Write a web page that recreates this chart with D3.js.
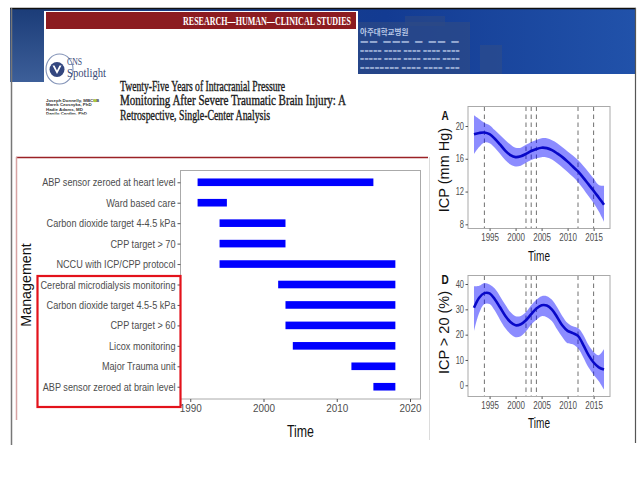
<!DOCTYPE html>
<html>
<head>
<meta charset="utf-8">
<script src="https://cdn.jsdelivr.net/npm/d3@7"></script>
<style>
  body { margin: 0; background: #fff; }
  svg { display: block; }
</style>
</head>
<body>
<svg id="slide" width="640" height="490"></svg>
<script>
// ---- data ----
const tasks = [
  'ABP sensor zeroed at heart level', 'Ward based care', 'Carbon dioxide target 4-4.5 kPa',
  'CPP target > 70', 'NCCU with ICP/CPP protocol', 'Cerebral microdialysis monitoring',
  'Carbon dioxide target 4.5-5 kPa', 'CPP target > 60', 'Licox monitoring',
  'Major Trauma unit', 'ABP sensor zeroed at brain level'];
const taskStart = [1991, 1991, 1994, 1994, 1994, 2002, 2003, 2003, 2004, 2012, 2015];
const taskEnd   = [2015, 1995, 2003, 2003, 2018, 2018, 2018, 2018, 2018, 2018, 2018];
const ganttTicks = [1990, 2000, 2010, 2020];

const years = [1992, 1993, 1994, 1995, 1996, 1997, 1998, 1999, 2000, 2001, 2002, 2003, 2004,
  2005, 2006, 2007, 2008, 2009, 2010, 2011, 2012, 2013, 2014, 2015, 2016, 2017];
const icpMean  = [19.0, 19.15, 19.2, 19.0, 18.45, 17.75, 17.0, 16.45, 16.2, 16.3, 16.6, 16.95, 17.2,
  17.35, 17.3, 17.05, 16.65, 16.2, 15.65, 15.05, 14.45, 13.7, 12.9, 12.1, 11.25, 10.4];
const icpUpper = [21.3, 20.85, 20.4, 20.1, 19.5, 18.9, 18.3, 17.75, 17.35, 17.35, 17.7, 18.05, 18.3,
  18.5, 18.5, 18.25, 17.9, 17.4, 16.9, 16.4, 15.85, 15.15, 14.4, 13.6, 12.8, 12.7];
const icpLower = [16.6, 17.45, 18.0, 17.9, 17.35, 16.6, 15.85, 15.3, 15.05, 15.15, 15.5, 15.85, 16.05,
  16.2, 16.15, 15.9, 15.45, 14.95, 14.4, 13.8, 13.15, 12.35, 11.45, 10.6, 9.55, 8.3];
const highMean  = [30.6, 34.6, 36.4, 36.3, 34.0, 30.8, 27.5, 25.0, 23.7, 24.1, 25.7, 28.1, 30.3,
  31.6, 31.5, 29.9, 26.9, 23.6, 21.5, 20.6, 19.5, 16.0, 12.0, 9.0, 7.1, 6.2];
const highUpper = [39.1, 39.3, 40.4, 39.8, 38.2, 35.2, 31.9, 28.9, 27.3, 27.4, 28.9, 31.6, 33.8,
  35.2, 35.2, 33.8, 30.8, 27.3, 24.6, 23.3, 22.6, 20.0, 16.0, 13.2, 11.9, 14.3];
const highLower = [21.3, 28.6, 32.1, 32.1, 29.5, 25.9, 22.6, 20.3, 19.0, 19.4, 21.3, 24.0, 25.9,
  27.3, 26.9, 25.3, 22.0, 19.0, 16.6, 16.2, 14.6, 11.1, 7.1, 4.2, 1.6, -1.7];
const changeYears = [1994, 2002, 2003, 2004, 2012, 2015];
const panelYearTicks = [1995, 2000, 2005, 2010, 2015];
const icpTicks = [8, 12, 16, 20];
const highTicks = [0, 10, 20, 30, 40];

const authors = ['Joseph Donnelly, MBChB', 'Marek Czosnyka, PhD', 'Hadie Adams, MD', 'Danilo Cardim, PhD'];
const titleLines = ['Twenty-Five Years of Intracranial Pressure',
  'Monitoring After Severe Traumatic Brain Injury: A',
  'Retrospective, Single-Center Analysis'];

const SANS = 'Liberation Sans, Arial, sans-serif';
const SERIF = 'Liberation Serif, Times New Roman, serif';

// squeeze text horizontally (the slide is a bit condensed)
function squeeze(sel, k) {
  sel.each(function () {
    const w = this.getComputedTextLength();
    d3.select(this).attr('textLength', w * k).attr('lengthAdjust', 'spacingAndGlyphs');
  });
}
function fitTo(sel, w) {
  sel.attr('textLength', w).attr('lengthAdjust', 'spacingAndGlyphs');
}

const svg = d3.select('#slide');
const defs = svg.append('defs');

// ---- banner ----
const bg = defs.append('linearGradient').attr('id', 'banner').attr('x1', 0).attr('x2', 1).attr('y1', 0).attr('y2', 0);
bg.append('stop').attr('offset', 0).attr('stop-color', '#1c3f7c');
bg.append('stop').attr('offset', 0.6).attr('stop-color', '#133b92');
bg.append('stop').attr('offset', 1).attr('stop-color', '#2152aa');
const lg = defs.append('linearGradient').attr('id', 'leftStrip').attr('x1', 0).attr('x2', 0).attr('y1', 0).attr('y2', 1);
lg.append('stop').attr('offset', 0).attr('stop-color', '#1b3c78');
lg.append('stop').attr('offset', 1).attr('stop-color', '#3d5f99');

svg.append('rect').attr('x', 10).attr('y', 8).attr('width', 626).attr('height', 66).attr('fill', 'url(#banner)');
svg.append('rect').attr('x', 10).attr('y', 8).attr('width', 36).attr('height', 74).attr('fill', 'url(#leftStrip)');

// building silhouette + sign text
const bld = svg.append('g');
bld.append('rect').attr('x', 358).attr('y', 22).attr('width', 112).attr('height', 52).attr('fill', '#2d4a86').attr('opacity', 0.7);
bld.append('rect').attr('x', 405).attr('y', 16).attr('width', 40).attr('height', 10).attr('fill', '#2d4a86').attr('opacity', 0.6);
bld.append('rect').attr('x', 480).attr('y', 45).attr('width', 22).attr('height', 29).attr('fill', '#2c4b8c').attr('opacity', 0.7);
bld.append('text').attr('x', 360).attr('y', 34.5).text('아주대학교병원')
  .attr('font-family', 'Noto Sans CJK KR').attr('font-size', 7.5).attr('font-weight', 700).attr('fill', '#b8c7e6');
['■■ ■■■         ■ ■■      ■', '■■■■■ ■■■■ ■■■■ ■■■■ ■■■■', '■■■■■ ■■■■ ■■■■ ■■■■ ■■■■', '■■■■■■■■    ■■■■ ■■■■ ■■■']
  .forEach((s, i) => {
    bld.append('text').attr('x', 360).attr('y', 43 + i * 8.5).text(s)
      .attr('font-family', SANS).attr('font-size', 4).attr('fill', '#a8bade').attr('opacity', 0.85)
      .call(fitTo, 100);
  });

// white paper + red header bar
svg.append('rect').attr('x', 44).attr('y', 11).attr('width', 314).attr('height', 140).attr('fill', '#fff');
svg.append('rect').attr('x', 46).attr('y', 12).attr('width', 310).attr('height', 17).attr('fill', '#8c1c20');
svg.append('text').attr('x', 351).attr('y', 24.5).attr('text-anchor', 'end')
  .text('RESEARCH\u2014HUMAN\u2014CLINICAL STUDIES')
  .attr('font-family', SERIF).attr('font-size', 11.5).attr('font-weight', 700).attr('fill', '#fff')
  .call(fitTo, 168);

// logo
const logo = svg.append('g');
logo.append('ellipse').attr('cx', 59.5).attr('cy', 69).attr('rx', 13.5).attr('ry', 15)
  .attr('fill', 'none').attr('stroke', '#8494b8').attr('stroke-width', 1.1);
logo.append('circle').attr('cx', 57).attr('cy', 69.5).attr('r', 7.5).attr('fill', '#34477f');
logo.append('path').attr('d', 'M52.5,65.5 L57,74 L61.5,65.5 L59.5,65.5 L57,70.5 L54.5,65.5 Z').attr('fill', '#fff');
logo.append('text').attr('x', 67).attr('y', 64.5).text('CNS')
  .attr('font-family', SERIF).attr('font-size', 9.5).attr('fill', '#3a4a78').call(fitTo, 15);
logo.append('text').attr('x', 67).attr('y', 77).text('Spotlight')
  .attr('font-family', SERIF).attr('font-size', 12).attr('fill', '#3a4a78').call(fitTo, 39);

// authors
defs.append('clipPath').attr('id', 'authClip').append('rect').attr('x', 40).attr('y', 90).attr('width', 80).attr('height', 24.5);
const auth = svg.append('g').attr('clip-path', 'url(#authClip)');
auth.selectAll('text').data(authors).join('text')
  .attr('x', 46).attr('y', (d, i) => 102 + i * 4.4).text(d => d)
  .attr('font-family', SANS).attr('font-size', 4.4).attr('font-weight', 700).attr('fill', '#333');
auth.append('circle').attr('cx', 95).attr('cy', 100.6).attr('r', 1.6).attr('fill', '#a6ce39');

// title
const titleW = [165, 226, 150];
svg.selectAll('text.title').data(titleLines).join('text').attr('class', 'title')
  .attr('x', 120).attr('y', (d, i) => 90.5 + i * 14.8).text(d => d)
  .attr('font-family', SERIF).attr('font-size', 14).attr('fill', '#1a1a1a')
  .attr('stroke', '#1a1a1a').attr('stroke-width', 0.35)
  .each(function (d, i) { d3.select(this).call(fitTo, titleW[i]); });

// slide frame lines
svg.append('line').attr('x1', 10).attr('x2', 636).attr('y1', 8.5).attr('y2', 8.5).attr('stroke', '#111').attr('stroke-width', 1.5);
svg.append('line').attr('x1', 11.5).attr('x2', 11.5).attr('y1', 8).attr('y2', 445).attr('stroke', '#777').attr('stroke-width', 1.5);
svg.append('line').attr('x1', 635.5).attr('x2', 635.5).attr('y1', 8).attr('y2', 443).attr('stroke', '#555').attr('stroke-width', 1.2);
svg.append('line').attr('x1', 16).attr('x2', 428).attr('y1', 157.5).attr('y2', 157.5).attr('stroke', '#9b2226').attr('stroke-width', 1.5);
svg.append('line').attr('x1', 16.5).attr('x2', 16.5).attr('y1', 157).attr('y2', 420).attr('stroke', '#d7a3a3').attr('stroke-width', 1.5);
svg.append('line').attr('x1', 429.5).attr('x2', 429.5).attr('y1', 157).attr('y2', 440).attr('stroke', '#dcdcdc').attr('stroke-width', 1);

// ---- gantt chart ----
const gx = d3.scaleLinear().domain([1988.6, 2021.5]).range([180, 421]);
const gy = d3.scalePoint().domain(tasks).range([170, 399]).padding(0.6);
const gantt = svg.append('g');

gantt.selectAll('rect.bar').data(tasks).join('rect').attr('class', 'bar')
  .attr('x', (d, i) => gx(taskStart[i]))
  .attr('width', (d, i) => gx(taskEnd[i]) - gx(taskStart[i]))
  .attr('y', d => gy(d) - 3.8).attr('height', 7.6)
  .attr('fill', '#0000ff');

gantt.append('rect').attr('x', 180.5).attr('y', 170.5).attr('width', 240).attr('height', 228.5)
  .attr('fill', 'none').attr('stroke', '#aaa');

const gyAxis = gantt.append('g').attr('transform', 'translate(180.5,0)')
  .call(d3.axisLeft(gy).tickSize(3).tickPadding(2));
gyAxis.select('.domain').remove();
gyAxis.selectAll('line').attr('stroke', '#555');
gyAxis.selectAll('text').attr('font-family', SANS).attr('font-size', 11).attr('fill', '#4d4d4d').call(squeeze, 0.83);

const gxAxis = gantt.append('g').attr('transform', 'translate(0,399)')
  .call(d3.axisBottom(gx).tickValues(ganttTicks).tickFormat(d3.format('d')).tickSize(3).tickPadding(2));
gxAxis.select('.domain').remove();
gxAxis.selectAll('line').attr('stroke', '#555');
gxAxis.selectAll('text').attr('font-family', SANS).attr('font-size', 11).attr('fill', '#4d4d4d').call(squeeze, 0.9);

gantt.append('text').attr('x', 300.5).attr('y', 436.5).attr('text-anchor', 'middle').text('Time')
  .attr('font-family', SANS).attr('font-size', 16.5).attr('fill', '#111').call(fitTo, 27);
gantt.append('text').attr('transform', 'translate(30.5,285) rotate(-90)').attr('text-anchor', 'middle')
  .text('Management').attr('font-family', SANS).attr('font-size', 14.3).attr('fill', '#111');

// red highlight box
svg.append('rect').attr('x', 37.5).attr('y', 276).attr('width', 143).attr('height', 131)
  .attr('fill', 'none').attr('stroke', '#e3121b').attr('stroke-width', 2.2);

// ---- trend panels ----
function drawPanel(p) {
  const x = d3.scaleLinear().domain([1990.85, 2018.15]).range([468, 610]);
  const y = d3.scaleLinear().domain(p.yDomain).range([p.bottom, p.top]);
  const g = svg.append('g');

  g.selectAll('line.change').data(changeYears).join('line').attr('class', 'change')
    .attr('x1', d => x(d)).attr('x2', d => x(d)).attr('y1', p.top).attr('y2', p.bottom)
    .attr('stroke', '#707070').attr('stroke-width', 1).attr('stroke-dasharray', '4.5,3.5');

  const area = d3.area().x((d, i) => x(years[i])).y0((d, i) => y(p.lower[i])).y1((d, i) => y(p.upper[i]))
    .curve(d3.curveCatmullRom);
  g.append('path').attr('d', area(years)).attr('fill', '#0000ff').attr('fill-opacity', 0.45);

  const line = d3.line().x((d, i) => x(years[i])).y((d, i) => y(p.mean[i])).curve(d3.curveCatmullRom);
  g.append('path').attr('d', line(years)).attr('fill', 'none').attr('stroke', '#0808c8').attr('stroke-width', 2.6);

  g.append('rect').attr('x', 468).attr('y', p.top).attr('width', 142).attr('height', p.bottom - p.top)
    .attr('fill', 'none').attr('stroke', '#aaa');

  const ya = g.append('g').attr('transform', 'translate(468,0)')
    .call(d3.axisLeft(y).tickValues(p.ticks).tickSize(2.5).tickPadding(1.5));
  ya.select('.domain').remove();
  ya.selectAll('line').attr('stroke', '#555');
  ya.selectAll('text').attr('font-family', SANS).attr('font-size', 10).attr('fill', '#4d4d4d').call(squeeze, 0.75);

  const xa = g.append('g').attr('transform', `translate(0,${p.bottom})`)
    .call(d3.axisBottom(x).tickValues(panelYearTicks).tickFormat(d3.format('d')).tickSize(2.5).tickPadding(2.5));
  xa.select('.domain').remove();
  xa.selectAll('line').attr('stroke', '#555');
  xa.selectAll('text').attr('font-family', SANS).attr('font-size', 10).attr('fill', '#4d4d4d').call(squeeze, 0.8);

  g.append('text').attr('x', 539).attr('y', p.timeY).attr('text-anchor', 'middle').text('Time')
    .attr('font-family', SANS).attr('font-size', 14).attr('fill', '#111').call(fitTo, 22);
  g.append('text').attr('transform', `translate(449,${p.labelY}) rotate(-90)`).attr('text-anchor', 'middle')
    .text(p.label).attr('font-family', SANS).attr('font-size', 14.5).attr('fill', '#111');
  g.append('text').attr('x', 441.5).attr('y', p.letterY).text(p.letter)
    .attr('font-family', SANS).attr('font-size', 12.5).attr('font-weight', 700).attr('fill', '#111').call(squeeze, 0.8);
}

drawPanel({ top: 106.5, bottom: 228.5, yDomain: [7.49, 22.38], ticks: icpTicks,
  mean: icpMean, upper: icpUpper, lower: icpLower,
  label: 'ICP (mm Hg)', labelY: 170, letter: 'A', letterY: 120, timeY: 260.5 });
drawPanel({ top: 275.5, bottom: 396.5, yDomain: [-4.42, 43.36], ticks: highTicks,
  mean: highMean, upper: highUpper, lower: highLower,
  label: 'ICP > 20 (%)', labelY: 332.5, letter: 'D', letterY: 284, timeY: 428 });
</script>
</body>
</html>
